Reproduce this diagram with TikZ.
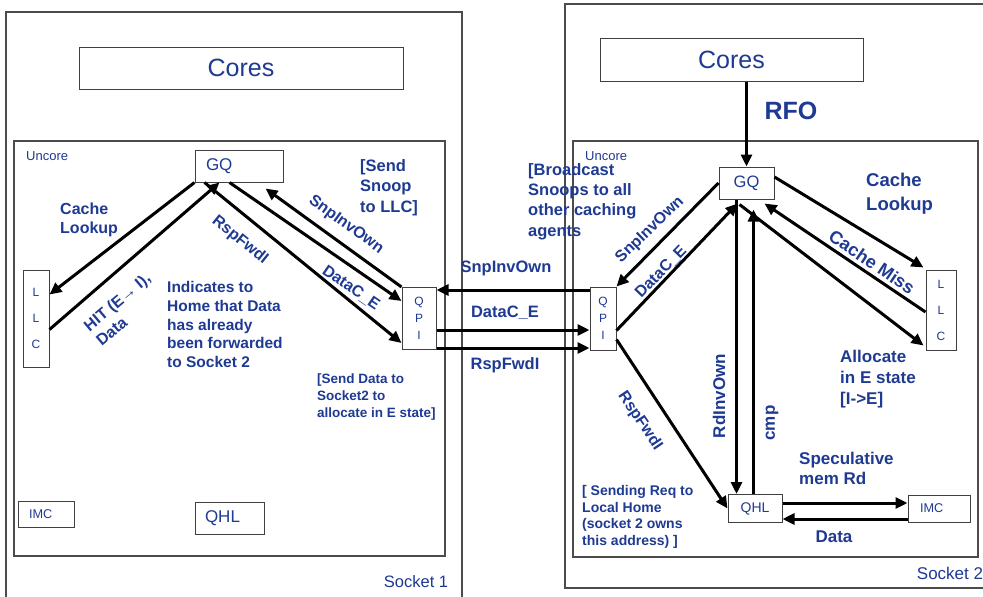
\documentclass[tikz,border=0pt]{standalone}
\usepackage{fontspec}
\setmainfont{Liberation Sans}
\usetikzlibrary{arrows.meta}
\definecolor{navy}{RGB}{31,58,147}
\newcommand{\fsz}[2]{\fontsize{#1}{#2}\selectfont}
\tikzset{
  frame/.style={draw=black!70, line width=1.1pt},
  box/.style={draw=black!75, line width=1pt, inner sep=0pt, text=navy, fill=white},
  lbl/.style={text=navy, inner sep=0pt, align=left, font=\bfseries\fsz{16}{19}},
  tag/.style={text=navy, inner sep=0pt},
  msg/.style={line width=3pt, -{Triangle[length=12pt,width=11pt]}},
}
\begin{document}
\begin{tikzpicture}[x=1pt, y=-1pt]
    \clip (0,0) rectangle (983,597);
    \fill[white] (0,0) rectangle (983,597);

    % socket outlines
    \draw[frame] (6,12) rectangle (462,610);
    \draw[frame] (14,141) rectangle (445,556);
    \draw[frame] (565,4) rectangle (990,588);
    \draw[frame] (573,141) rectangle (978,557);

    % socket 1 blocks
    \node[box, minimum width=324pt, minimum height=42pt, font=\fsz{25}{30}] (cores1) at (241,68) {Cores};
    \node[box, minimum width=88pt, minimum height=32pt, text width=66pt, inner xsep=11pt, align=left, font=\fsz{17}{20}] (gq1) at (239,166) {GQ};
    \node[box, minimum width=26pt, minimum height=97pt, align=center, font=\fsz{12}{26}] (llc1) at (36,318.5) {L\\L\\C};
    \node[box, minimum width=34pt, minimum height=62pt, align=center, font=\fsz{12}{17}] (qpi1) at (419,318.5) {Q\\P\\I};
    \node[box, minimum width=56pt, minimum height=26pt, text width=34pt, inner xsep=11pt, align=left, font=\fsz{12.7}{15}] (imc1) at (46,514) {IMC};
    \node[box, minimum width=69pt, minimum height=32pt, text width=49pt, inner xsep=10pt, align=left, font=\fsz{17}{20}] (qhl1) at (229.5,518) {QHL};
    \node[tag, anchor=west, font=\fsz{13}{15}] (unc1) at (26,156) {Uncore};
    \node[tag, font=\fsz{16.5}{19}] (sk1) at (416,582) {Socket 1};

    % socket 2 blocks
    \node[box, minimum width=263pt, minimum height=43pt, font=\fsz{25}{30}] (cores2) at (731.5,59.5) {Cores};
    \node[box, minimum width=55pt, minimum height=32pt, font=\fsz{16.5}{20}] (gq2) at (746.5,183) {GQ};
    \node[box, minimum width=30pt, minimum height=80pt, align=center, font=\fsz{12}{26}] (llc2) at (941,310) {L\\L\\C};
    \node[box, minimum width=26pt, minimum height=63pt, align=center, font=\fsz{12}{17}] (qpi2) at (603,318.5) {Q\\P\\I};
    \node[box, minimum width=54pt, minimum height=28pt, font=\fsz{14}{16}] (qhl2) at (755,508.5) {QHL};
    \node[box, minimum width=62pt, minimum height=27pt, text width=38pt, inner xsep=12pt, align=left, font=\fsz{12.7}{15}] (imc2) at (939,508.5) {IMC};
    \node[tag, anchor=west, font=\fsz{13}{15}] (unc2) at (585,156) {Uncore};
    \node[tag, font=\fsz{17}{19}] (sk2) at (950,573) {Socket 2};

    % socket 1 messages
    \draw[msg] (gq1.south west) -- ([yshift=-25pt]llc1.north east);
    \draw[msg] ([yshift=-60pt]llc1.north east) -- ([xshift=25pt]gq1.south west);
    \draw[msg] ([xshift=10pt]gq1.south west) -- ([yshift=7pt]qpi1.south west);
    \draw[msg] ([xshift=35pt]gq1.south west) -- ([yshift=-14pt]qpi1.north west);
    \draw[msg] (qpi1.north west) -- ([xshift=-18pt,yshift=-6pt]gq1.south east);

    % QPI link
    \draw[msg] ([yshift=28.5pt]qpi2.west) -- ([yshift=28.5pt]qpi1.east);
    \foreach \dy in {-11.5,-29.5}
        \draw[msg] ([yshift=\dy pt]qpi1.east) -- ([yshift=\dy pt]qpi2.west);

    % socket 2 messages
    \draw[msg] (cores2.south -| gq2.north) -- (gq2.north);
    \draw[msg] (gq2.west) -- (qpi2.north east);
    \draw[msg] ([yshift=20pt]qpi2.south east) -- ([xshift=19pt,yshift=-4pt]gq2.south west);
    \draw[msg] ([yshift=6pt]gq2.east) -- ([xshift=-2pt,yshift=2pt]llc2.north west);
    \draw[msg] ([yshift=-2pt]llc2.west) -- ([xshift=-10pt,yshift=-4pt]gq2.south east);
    \draw[msg] ([xshift=21pt,yshift=-5pt]gq2.south west) -- ([xshift=-2pt,yshift=5pt]llc2.south west);
    \draw[msg] ([xshift=18pt]gq2.south west) -- ([xshift=9pt]qhl2.north west);
    \draw[msg] ([xshift=26pt]qhl2.north west) -- ([xshift=35pt,yshift=-10pt]gq2.south west);
    \draw[msg] ([yshift=11pt]qpi2.south east) -- (qhl2.west);
    \draw[msg] ([yshift=5.5pt]qhl2.east) -- ([yshift=5.5pt]imc2.west);
    \draw[msg] ([yshift=-10.5pt]imc2.west) -- ([yshift=-10.5pt]qhl2.east);

    % socket 1 labels
    \node[lbl, anchor=west] (look1) at (60,219.5) {Cache\\Lookup};
    \node[lbl, rotate=40] (hit) at (123,309) {HIT (E→ I),\\Data};
    \node[lbl, rotate=-39] (fwd1) at (240,240) {RspFwdI};
    \node[lbl, rotate=-36] (snp1) at (346,225) {SnpInvOwn};
    \node[lbl, rotate=-34.5] (dat1) at (351,288) {DataC\_E};
    \node[lbl, anchor=west, font=\bfseries\fsz{16.5}{20.5}] (note1) at (360,187.5) {[Send\\Snoop\\to LLC]};
    \node[lbl, anchor=west, font=\bfseries\fsz{15.5}{18.75}] (note2) at (167,324.5) {Indicates to\\Home that Data\\has already\\been forwarded\\to Socket 2};
    \node[lbl, anchor=west, font=\bfseries\fsz{13.5}{17}] (note3) at (317,397) {[Send Data to\\Socket2 to\\allocate in E state]};

    % link labels
    \node[lbl, font=\bfseries\fsz{16.5}{19}] (snpq) at (506,268) {SnpInvOwn};
    \node[lbl, font=\bfseries\fsz{16.5}{19}] (datq) at (505,313) {DataC\_E};
    \node[lbl, font=\bfseries\fsz{16.5}{19}] (fwdq) at (505,365) {RspFwdI};

    % socket 2 labels
    \node[lbl, font=\bfseries\fsz{25}{30}] (rfo) at (791,111) {RFO};
    \node[lbl, anchor=west, font=\bfseries\fsz{16.5}{20.3}] (note4) at (528,201.5) {[Broadcast\\Snoops to all\\other caching\\agents};
    \node[lbl, anchor=west, font=\bfseries\fsz{18.5}{24}] (look2) at (866,194) {Cache\\Lookup};
    \node[lbl, rotate=44] (snp2) at (650,230) {SnpInvOwn};
    \node[lbl, rotate=46] (dat2) at (661,272) {DataC\_E};
    \node[lbl, rotate=-34, font=\bfseries\fsz{18}{21}] (miss) at (872,262) {Cache Miss};
    \node[lbl, anchor=west, font=\bfseries\fsz{17}{21}] (alloc) at (840,379) {Allocate\\in E state\\{[I->E]}};
    \node[lbl, rotate=90, font=\bfseries\fsz{17}{20}] (rdown) at (719,396) {RdInvOwn};
    \node[lbl, rotate=90, font=\bfseries\fsz{17}{20}] (cmp) at (772,423) {cmp};
    \node[lbl, rotate=-56] (fwd2) at (640,421) {RspFwdI};
    \node[lbl, anchor=west, font=\bfseries\fsz{17}{20}] (spec) at (799,468) {Speculative\\mem Rd};
    \node[lbl, font=\bfseries\fsz{17}{20}] (data) at (834,537) {Data};
    \node[lbl, anchor=west, font=\bfseries\fsz{14}{16.7}] (note5) at (582,517) {[ Sending Req to\\Local Home\\(socket 2 owns\\this address) ]};
\end{tikzpicture}
\end{document}
